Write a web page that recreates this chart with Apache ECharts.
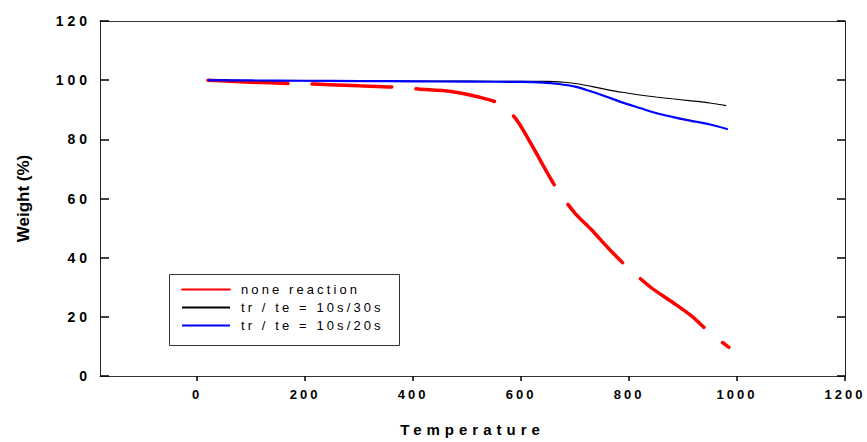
<!DOCTYPE html>
<html>
<head>
<meta charset="utf-8">
<script src="https://cdn.jsdelivr.net/npm/echarts@6/dist/echarts.min.js"></script>
<style>
html,body{margin:0;padding:0;background:#fff;}
#chart{width:867px;height:442px;}
</style>
</head>
<body>
<div id="chart"></div>
<script>
// ---- data ----
const seriesNames = ['none reaction', 'tr / te = 10s/30s', 'tr / te = 10s/20s'];
const xTickValues = [0, 200, 400, 600, 800, 1000, 1200];
const yTickValues = [0, 20, 40, 60, 80, 100, 120];

const redTemp   = [20, 60, 100, 170, 215, 300, 360, 410, 470, 520, 560, 590, 620, 650, 670, 700, 730, 760, 790, 840, 880, 915, 950, 985];
const redWeight = [100, 99.6, 99.3, 98.9, 98.7, 98.1, 97.7, 97.0, 96.2, 94.4, 92.0, 87.0, 78.0, 68.2, 62.2, 55.0, 49.5, 43.5, 38.0, 30.0, 25.0, 20.4, 14.6, 9.7];

const blackTemp   = [20, 100, 200, 300, 400, 500, 600, 650, 680, 707, 730, 757, 787, 820, 850, 880, 911, 950, 980];
const blackWeight = [100, 99.9, 99.8, 99.8, 99.7, 99.7, 99.6, 99.6, 99.3, 98.7, 97.9, 96.9, 95.9, 95.0, 94.3, 93.7, 93.1, 92.3, 91.4];

const blueTemp   = [20, 100, 200, 300, 400, 500, 600, 640, 670, 700, 726, 757, 787, 820, 850, 880, 911, 950, 983];
const blueWeight = [100, 99.9, 99.8, 99.7, 99.6, 99.5, 99.4, 99.2, 98.7, 97.8, 96.4, 94.5, 92.5, 90.6, 88.9, 87.6, 86.4, 85.0, 83.4];

const zip = (a, b) => a.map((v, i) => [v, b[i]]);

const FONT = 'Liberation Sans, Arial, sans-serif';
const chart = echarts.init(document.getElementById('chart'), null, {renderer: 'svg'});

const option = {
  animation: false,
  backgroundColor: '#fff',
  grid: {left: 100, right: 22, top: 21, bottom: 62},
  xAxis: [{
    type: 'value', min: -180, max: 1200,
    name: 'Temperature', nameLocation: 'middle', nameGap: 46,
    nameTextStyle: {fontFamily: FONT, fontWeight: 'bold', fontSize: 15, color: '#000'},
    axisLine: {show: true, onZero: false, lineStyle: {color: '#333', width: 1}},
    axisTick: {show: true, inside: false, length: 5, customValues: xTickValues, lineStyle: {color: '#000', width: 1.5}},
    axisLabel: {customValues: xTickValues, formatter: v => String(v), margin: 12, fontFamily: FONT, fontWeight: 'bold', fontSize: 13, color: '#000'},
    splitLine: {show: false}
  }, {
    type: 'value', min: -180, max: 1200, position: 'top',
    axisLine: {show: true, onZero: false, lineStyle: {color: '#333', width: 1}},
    axisTick: {show: false}, axisLabel: {show: false}, splitLine: {show: false}
  }],
  yAxis: [{
    type: 'value', min: 0, max: 120, interval: 20, position: 'left',
    name: 'Weight (%)', nameLocation: 'middle', nameGap: 68,
    nameTextStyle: {fontFamily: FONT, fontWeight: 'bold', fontSize: 17, color: '#000'},
    axisLine: {show: true, onZero: false, lineStyle: {color: '#222', width: 1}},
    axisTick: {show: true, inside: true, length: 9, lineStyle: {color: '#000', width: 1.5}},
    axisLabel: {formatter: v => String(v), margin: 9, fontFamily: FONT, fontWeight: 'bold', fontSize: 14, color: '#000'},
    splitLine: {show: false}
  }, {
    type: 'value', min: 0, max: 120, interval: 20, position: 'right',
    axisLine: {show: true, onZero: false, lineStyle: {color: '#222', width: 1}},
    axisTick: {show: true, inside: true, length: 8, lineStyle: {color: '#000', width: 1.5}},
    axisLabel: {show: false}, splitLine: {show: false}
  }],
  legend: {
    orient: 'vertical', left: 181, top: 283, padding: 0,
    itemWidth: 48, itemHeight: 14, itemGap: 5,
    data: seriesNames,
    itemStyle: {opacity: 0},
    textStyle: {fontFamily: FONT, fontSize: 13, color: '#000', padding: [0, 0, 0, 6]}
  },
  graphic: [{
    type: 'rect', left: 167, top: 272, silent: true,
    shape: {width: 230, height: 71},
    style: {fill: 'none', stroke: '#333', lineWidth: 1}
  }],
  series: [{
    name: seriesNames[0], type: 'line', data: zip(redTemp, redWeight),
    showSymbol: false, symbol: 'none', smooth: 0.3,
    lineStyle: {color: '#ff0000', width: 3.5, type: [80, 24], cap: 'round'},
    itemStyle: {color: '#ff0000'}
  }, {
    name: seriesNames[1], type: 'line', data: zip(blackTemp, blackWeight),
    showSymbol: false, symbol: 'none', smooth: 0.3,
    lineStyle: {color: '#000', width: 1.1},
    itemStyle: {color: '#000'}
  }, {
    name: seriesNames[2], type: 'line', data: zip(blueTemp, blueWeight),
    showSymbol: false, symbol: 'none', smooth: 0.3,
    lineStyle: {color: '#0000ff', width: 2.2},
    itemStyle: {color: '#0000ff'}
  }]
};
chart.setOption(option);

function spaceText() {
  const xStr = xTickValues.map(String);
  const yStr = yTickValues.map(String);
  document.querySelectorAll('#chart text').forEach(t => {
    const s = t.textContent;
    let ls = 0;
    if (t.getAttribute('text-anchor') === 'middle' && xStr.indexOf(s) >= 0) ls = 3;
    else if (yStr.indexOf(s) >= 0 || xStr.indexOf(s) >= 0) ls = 4;
    else if (seriesNames.indexOf(s) >= 0) ls = 3.1;
    else if (s === 'Temperature') ls = 5;
    if (ls) t.setAttribute('letter-spacing', ls + 'px');
  });
}
spaceText();
chart.on('finished', spaceText);
</script>
</body>
</html>
